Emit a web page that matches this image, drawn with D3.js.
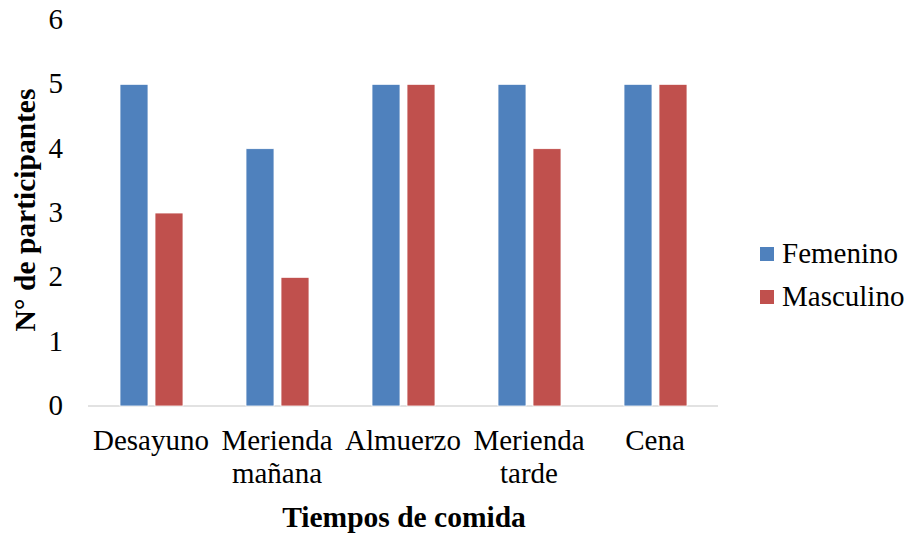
<!DOCTYPE html>
<html>
<head>
<meta charset="utf-8">
<script src="https://cdn.jsdelivr.net/npm/d3@7"></script>
<style>
  body { margin: 0; background: #fff; }
</style>
</head>
<body>
<svg id="chart"></svg>
<script>
const categories = [["Desayuno"], ["Merienda", "mañana"], ["Almuerzo"], ["Merienda", "tarde"], ["Cena"]];
const femenino = [5, 4, 5, 5, 5];
const masculino = [3, 2, 5, 4, 5];
const seriesNames = ["Femenino", "Masculino"];
const yTicks = [0, 1, 2, 3, 4, 5, 6];

const width = 908;
const height = 533;
const colors = ["#4f81bd", "#c0504d"];
const font = "'Liberation Serif', 'Times New Roman', serif";

const svg = d3.select("#chart")
  .attr("width", width)
  .attr("height", height)
  .style("font-family", font);

// plot area
const x0 = d3.scaleBand()
  .domain(d3.range(categories.length))
  .range([88, 718]);

const x1 = d3.scaleBand()
  .domain([0, 1])
  .range([32, 95])
  .paddingInner(0.2);

const y = d3.scaleLinear().domain([0, 6]).range([406, 20]);

// baseline
svg.append("line")
  .attr("x1", 88).attr("x2", 718)
  .attr("y1", y(0)).attr("y2", y(0))
  .attr("stroke", "#d9d9d9")
  .attr("stroke-width", 1.5);

// y tick labels
svg.selectAll(".ytick")
  .data(yTicks)
  .enter()
  .append("text")
  .attr("class", "ytick")
  .attr("x", 63)
  .attr("y", (d) => y(d) + 9)
  .attr("text-anchor", "end")
  .style("font-size", "29px")
  .text((d) => d);

// bars
const rows = categories.map((c, i) => [femenino[i], masculino[i]]);
const groups = svg.selectAll(".grp")
  .data(rows)
  .enter()
  .append("g")
  .attr("transform", (d, i) => `translate(${x0(i)},0)`);

groups.selectAll("rect")
  .data((d) => d)
  .enter()
  .append("rect")
  .attr("x", (d, j) => x1(j))
  .attr("y", (d) => y(d))
  .attr("width", x1.bandwidth())
  .attr("height", (d) => y(0) - y(d))
  .attr("fill", (d, j) => colors[j])
  .attr("stroke", "#fff")
  .attr("stroke-width", 0.8);

// x labels
const xl = svg.selectAll(".xlab")
  .data(categories)
  .enter()
  .append("text")
  .attr("class", "xlab")
  .attr("text-anchor", "middle")
  .style("font-size", "29px")
  .attr("transform", (d, i) => `translate(${x0(i) + x0.bandwidth() / 2},450)`);

xl.selectAll("tspan")
  .data((d) => d)
  .enter()
  .append("tspan")
  .attr("x", 0)
  .attr("dy", (d, k) => (k === 0 ? 0 : 33))
  .text((d) => d);

// axis titles
svg.append("text")
  .attr("x", 404)
  .attr("y", 527)
  .attr("text-anchor", "middle")
  .style("font-size", "29.5px")
  .style("font-weight", "bold")
  .text("Tiempos de comida");

svg.append("text")
  .attr("transform", "translate(35,210) rotate(-90)")
  .attr("text-anchor", "middle")
  .style("font-size", "29.5px")
  .style("font-weight", "bold")
  .text("N° de participantes");

// legend
const legend = svg.append("g").attr("transform", "translate(760,247)");
legend.selectAll("rect")
  .data(seriesNames)
  .enter()
  .append("rect")
  .attr("x", 0)
  .attr("y", (d, i) => i * 43)
  .attr("width", 14)
  .attr("height", 14)
  .attr("fill", (d, i) => colors[i]);

legend.selectAll("text")
  .data(seriesNames)
  .enter()
  .append("text")
  .attr("x", 22)
  .attr("y", (d, i) => i * 43 + 16)
  .style("font-size", "29px")
  .text((d) => d);
</script>
</body>
</html>
